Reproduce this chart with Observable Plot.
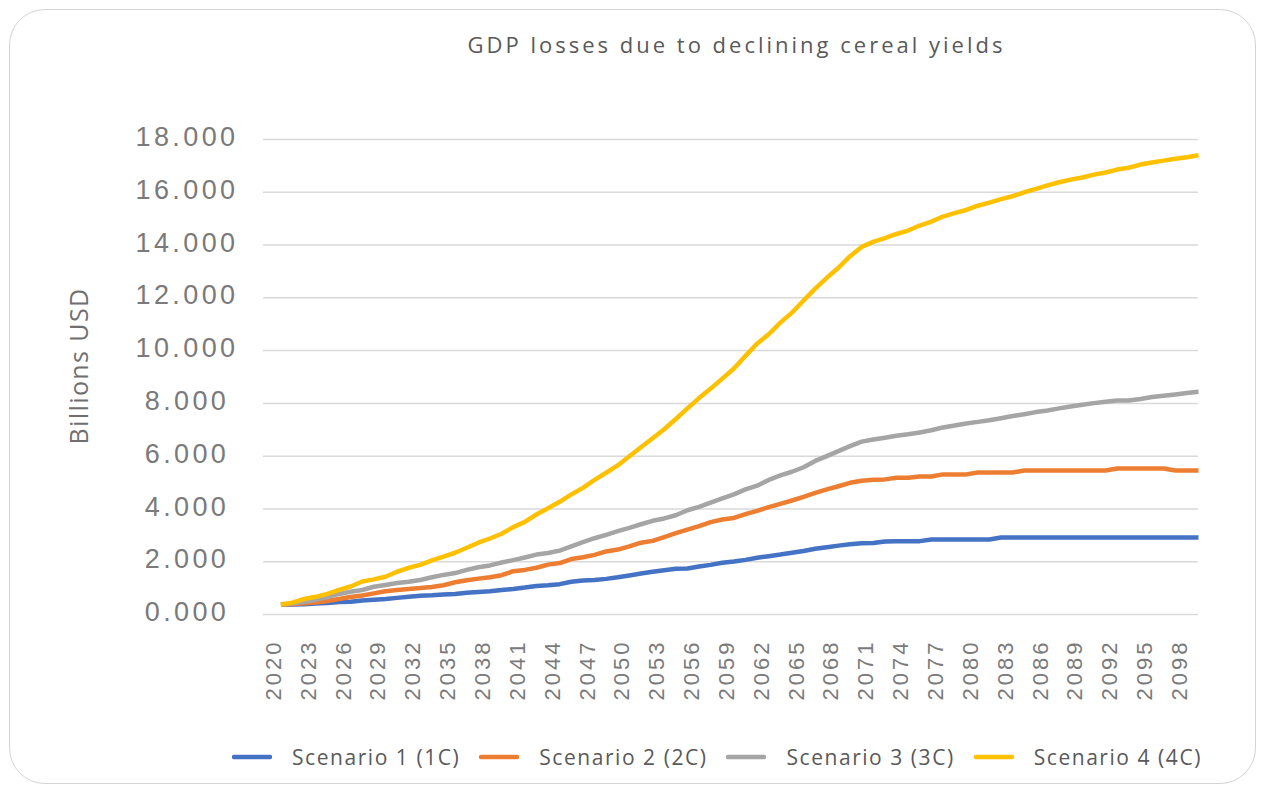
<!DOCTYPE html>
<html>
<head>
<meta charset="utf-8">
<script src="https://cdn.jsdelivr.net/npm/d3@7"></script>
<script src="https://cdn.jsdelivr.net/npm/@observablehq/plot@0.6"></script>
<style>
  html, body { margin: 0; padding: 0; background: #fff; }
  #wrap { position: relative; width: 1263px; height: 789px; overflow: hidden; background: #fff; }
  #frame { position: absolute; left: 9px; top: 9px; width: 1247px; height: 775px; border: 1.5px solid #d4d4d4; border-radius: 36px; box-sizing: border-box; }
  #title { position: absolute; left: 0; width: 1473px; top: 29px; text-align: center; font-family: "Open Sans", sans-serif; font-size: 22px; letter-spacing: 3px; color: #595959; white-space: nowrap; }
  #chart { position: absolute; left: 0; top: 0; }
  #legend { position: absolute; left: 232px; top: 743px; display: flex; align-items: center; font-family: "Open Sans", sans-serif; font-size: 21px; letter-spacing: 1.55px; color: #595959; white-space: nowrap; }
  .item { display: flex; align-items: center; margin-right: 19px; }
  .item svg { margin-right: 20px; }
</style>
</head>
<body>
<div id="wrap">
  <div id="chart"></div>
  <div id="frame"></div>
  <div id="title">GDP losses due to declining cereal yields</div>
  <div id="legend"></div>
</div>
<script>
const years = d3.range(2020, 2100);
const seriesNames = ["Scenario 1 (1C)", "Scenario 2 (2C)", "Scenario 3 (3C)", "Scenario 4 (4C)"];
const seriesColors = ["#4472C4", "#ED7D31", "#A5A5A5", "#FFC000"];
const yTicks = [0, 2, 4, 6, 8, 10, 12, 14, 16, 18];
const xTicks = d3.range(2020, 2099, 3);

const scenario1 = [
  0.38, 0.38, 0.39, 0.42, 0.44, 0.47, 0.48, 0.53, 0.56, 0.59,
  0.63, 0.67, 0.71, 0.73, 0.76, 0.78, 0.82, 0.85, 0.88, 0.93,
  0.97, 1.02, 1.08, 1.11, 1.15, 1.24, 1.29, 1.31, 1.35, 1.41,
  1.48, 1.55, 1.62, 1.68, 1.73, 1.74, 1.82, 1.88, 1.96, 2.01,
  2.07, 2.15, 2.21, 2.27, 2.34, 2.41, 2.49, 2.55, 2.61, 2.66,
  2.70, 2.71, 2.77, 2.78, 2.78, 2.78, 2.84, 2.84, 2.84, 2.84,
  2.84, 2.84, 2.92, 2.92, 2.92, 2.92, 2.92, 2.92, 2.92, 2.92,
  2.92, 2.92, 2.92, 2.92, 2.92, 2.92, 2.92, 2.92, 2.92, 2.92
];
const scenario2 = [
  0.38, 0.40, 0.43, 0.45, 0.51, 0.59, 0.66, 0.72, 0.80, 0.88,
  0.93, 0.97, 1.00, 1.04, 1.11, 1.22, 1.30, 1.36, 1.41, 1.49,
  1.64, 1.69, 1.77, 1.89, 1.95, 2.10, 2.17, 2.26, 2.39, 2.46,
  2.58, 2.72, 2.79, 2.93, 3.08, 3.22, 3.35, 3.50, 3.60, 3.66,
  3.80, 3.93, 4.07, 4.19, 4.32, 4.46, 4.61, 4.74, 4.86, 4.99,
  5.07, 5.11, 5.12, 5.18, 5.18, 5.23, 5.23, 5.31, 5.31, 5.31,
  5.38, 5.38, 5.38, 5.38, 5.46, 5.46, 5.46, 5.46, 5.46, 5.46,
  5.46, 5.46, 5.53, 5.53, 5.53, 5.53, 5.53, 5.46, 5.46, 5.46
];
const scenario3 = [
  0.38, 0.43, 0.48, 0.56, 0.66, 0.78, 0.86, 0.93, 1.05, 1.12,
  1.19, 1.24, 1.31, 1.41, 1.50, 1.57, 1.69, 1.79, 1.86, 1.97,
  2.06, 2.16, 2.27, 2.33, 2.42, 2.58, 2.74, 2.89, 3.02, 3.16,
  3.28, 3.42, 3.55, 3.64, 3.76, 3.95, 4.08, 4.24, 4.40, 4.55,
  4.74, 4.88, 5.10, 5.27, 5.41, 5.58, 5.82, 6.00, 6.19, 6.38,
  6.55, 6.63, 6.70, 6.77, 6.83, 6.90, 6.98, 7.09, 7.16, 7.24,
  7.30, 7.36, 7.44, 7.52, 7.59, 7.67, 7.73, 7.81, 7.88, 7.95,
  8.01, 8.06, 8.11, 8.11, 8.17, 8.24, 8.29, 8.34, 8.39, 8.44
];
const scenario4 = [
  0.38, 0.45, 0.59, 0.67, 0.78, 0.93, 1.06, 1.25, 1.33, 1.43,
  1.62, 1.77, 1.88, 2.05, 2.19, 2.34, 2.53, 2.72, 2.88, 3.06,
  3.31, 3.51, 3.79, 4.03, 4.27, 4.55, 4.80, 5.10, 5.37, 5.65,
  6.00, 6.34, 6.68, 7.02, 7.41, 7.81, 8.20, 8.56, 8.94, 9.32,
  9.80, 10.27, 10.62, 11.06, 11.44, 11.90, 12.35, 12.76, 13.14, 13.58,
  13.93, 14.12, 14.26, 14.42, 14.55, 14.74, 14.89, 15.08, 15.21, 15.33,
  15.49, 15.61, 15.74, 15.85, 16.00, 16.13, 16.26, 16.38, 16.48, 16.56,
  16.67, 16.75, 16.86, 16.93, 17.05, 17.13, 17.20, 17.27, 17.33, 17.40
];

const allSeries = [scenario1, scenario2, scenario3, scenario4];
const data = allSeries.flatMap((vals, k) =>
  years.map((yr, i) => ({year: yr, value: vals[i], series: seriesNames[k]}))
);

const fmt = d3.format(".3f");
const tickFont = "'Liberation Sans', Arial, sans-serif";

const chart = Plot.plot({
  width: 1263,
  height: 720,
  marginLeft: 263,
  marginRight: 65,
  marginTop: 139,
  marginBottom: 106,
  style: {background: "none", overflow: "visible"},
  x: {domain: [2018.5, 2099], axis: null},
  y: {domain: [0, 18], axis: null},
  color: {domain: seriesNames, range: seriesColors},
  marks: [
    Plot.ruleY(yTicks, {stroke: "#d9d9d9", strokeWidth: 1.5}),
    Plot.line(data, {x: "year", y: "value", z: "series", stroke: "series", strokeWidth: 4.5, strokeLinejoin: "round", strokeLinecap: "butt"}),
    Plot.text(yTicks, {y: d => d, text: d => fmt(d), frameAnchor: "left", dx: -76.5, dy: -2, textAnchor: "middle",
      fontFamily: tickFont, fontSize: 27, fill: "#7a7a7a"}),
    Plot.text(xTicks, {x: d => d, text: d => String(d), frameAnchor: "bottom", dy: 25, rotate: -90, textAnchor: "end",
      fontFamily: tickFont, fontSize: 22, fill: "#7a7a7a"}),
    Plot.text(["Billions USD"], {frameAnchor: "left", dx: -184, dy: -11, rotate: -90, textAnchor: "middle",
      fontFamily: "'Open Sans', sans-serif", fontSize: 25, fill: "#6f6f6f"})
  ]
});
document.getElementById("chart").appendChild(chart);
chart.querySelectorAll("text").forEach(t => {
  const s = t.textContent;
  let ls = null;
  if (/^\d+\.\d{3}$/.test(s)) ls = "3.4px";
  else if (/^\d{4}$/.test(s)) ls = "3px";
  else if (s === "Billions USD") ls = "1.4px";
  if (ls) { t.setAttribute("letter-spacing", ls); t.style.letterSpacing = ls; }
});

const legend = document.getElementById("legend");
seriesNames.forEach((name, k) => {
  const item = document.createElement("div");
  item.className = "item";
  item.innerHTML = `<svg width="40" height="8"><line x1="2" y1="4" x2="38" y2="4" stroke="${seriesColors[k]}" stroke-width="4.5" stroke-linecap="round"/></svg><span>${name}</span>`;
  legend.appendChild(item);
});
</script>
</body>
</html>
